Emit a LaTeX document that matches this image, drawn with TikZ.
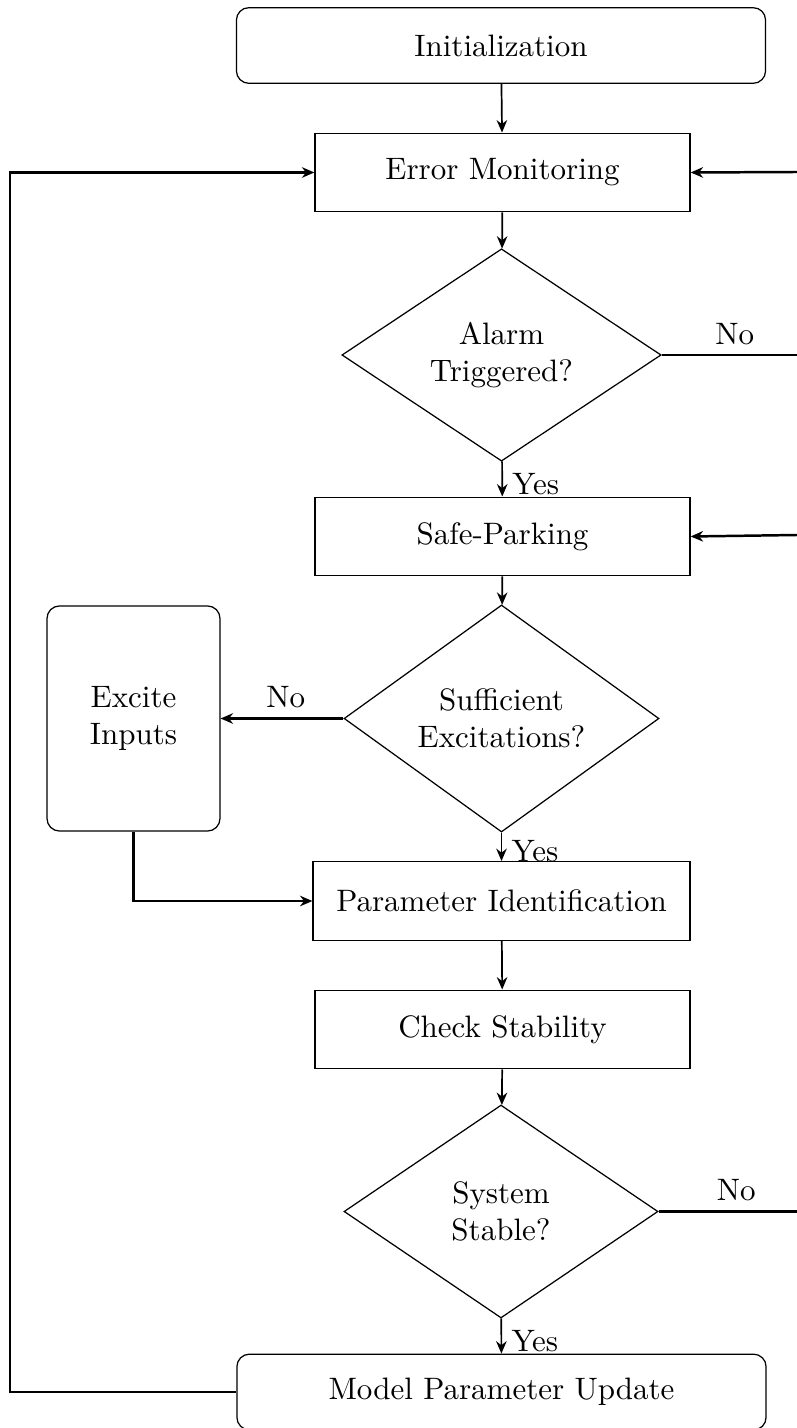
\documentclass[tikz,border=0pt]{standalone}
\usetikzlibrary{shapes.geometric,arrows.meta}
\begin{document}
\begin{tikzpicture}[x=0.3226pt,y=-0.3226pt,
  box/.style={draw,line width=0.4pt,minimum width=121pt,minimum height=25.4pt,inner sep=2pt},
  rbox/.style={draw,line width=0.4pt,rounded corners=4pt,minimum width=170.7pt,minimum height=24.4pt},
  decision/.style={draw,line width=0.4pt,diamond,inner sep=0pt,minimum width=103pt,minimum height=68.5pt,align=center},
  tip/.style={-{Stealth[length=4pt,width=3.4pt,inset=1.3pt]}},
  flow/.style={tip,line width=0.55pt},
  loop/.style={tip,line width=0.8pt},
  plainline/.style={line width=0.8pt},
  lbl/.style={inner sep=1pt},
  nolbl/.style={inner sep=1pt,above,yshift=2pt}]
\useasboundingbox (0,0) rectangle (797,1428);

% main column
\node[rbox] (init) at (501,45.5) {Initialization};
\node[box] (mon) at (502.5,172.5) {Error Monitoring};
\node[decision] (alarm) at (501.5,355) {Alarm\\Triggered?};
\node[box] (park) at (502.5,536.5) {Safe-Parking};
\node[decision,minimum width=101.6pt,minimum height=67.4pt] (exc) at (501.5,718.5) {Sufficient\\Excitations?};
\node[box,minimum width=121.6pt] (pid) at (501.5,901) {Parameter Identification};
\node[box] (chk) at (502.5,1029.5) {Check Stability};
\node[decision,minimum width=101.3pt,minimum height=68.7pt] (stab) at (501,1211.5) {System\\Stable?};
\node[rbox] (upd) at (501.5,1392) {Model Parameter Update};

% side box
\node[draw,line width=0.4pt,rounded corners=4pt,minimum width=55.8pt,minimum height=72.6pt,align=center] (inp) at (133.5,718.5) {Excite\\Inputs};

% free ends at the right border and the left return corner
\coordinate (rA) at (797,172);
\coordinate (rB) at (797,355);
\coordinate (rC) at (797,535);
\coordinate (rD) at (797,1211.5);
\coordinate (lt) at (10,172.5);

% vertical flow
\draw[flow] (init) -- (mon);
\draw[flow] (mon) -- (alarm);
\draw[flow] (alarm) -- node[lbl,anchor=west,xshift=2pt,yshift=-1.5pt] {Yes} (park);
\draw[flow] (park) -- (exc);
\draw[flow] (exc) -- node[lbl,anchor=west,xshift=2pt,yshift=-1.5pt] {Yes} (pid);
\draw[flow] (pid) -- (chk);
\draw[flow] (chk) -- (stab);
\draw[flow] (stab) -- node[lbl,anchor=west,xshift=2pt,yshift=-1.5pt] {Yes} (upd);

% branches and loops
\draw[plainline] (alarm.east) -- node[nolbl,pos=0.54] {No} (rB);
\draw[loop] (rA) -- (mon.east);
\draw[loop] (rC) -- (park.east);
\draw[plainline] (stab.east) -- node[nolbl,pos=0.56] {No} (rD);
\draw[loop] (exc.west) -- node[nolbl,pos=0.47] {No} (inp.east);
\draw[loop] (inp.south) |- (pid.west);
\draw[loop] (upd.west) -| (lt) -- (mon.west);
\end{tikzpicture}
\end{document}
